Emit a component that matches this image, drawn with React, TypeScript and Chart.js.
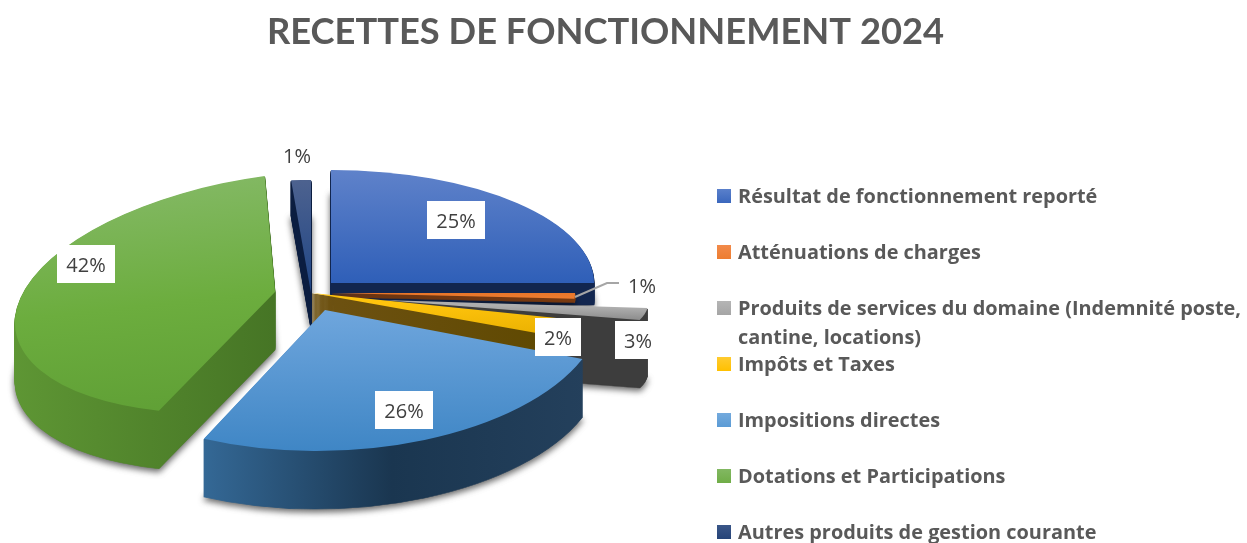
import React, { useEffect, useRef } from "react";
import { Chart, registerables } from "chart.js";

Chart.register(...registerables);

const TITLE = "RECETTES DE FONCTIONNEMENT 2024";
const categories = [
  ["Résultat de fonctionnement reporté"],
  ["Atténuations de charges"],
  ["Produits de services du domaine (Indemnité poste,", "cantine, locations)"],
  ["Impôts et Taxes"],
  ["Impositions directes"],
  ["Dotations et Participations"],
  ["Autres produits de gestion courante"],
];
const values = [25, 1, 3, 2, 26, 42, 1];
const baseColors = ["#3a67bd", "#ed7d31", "#a5a5a5", "#ffc000", "#5b9bd5", "#70ad47", "#264478"];
const legendTop = ["#5a80cb", "#f28a4a", "#b5b5b5", "#ffcb30", "#74aadd", "#82b862", "#3a5688"];

// Appearance of each slice in the fake 3D projection, drawn back to front.
type Look = {
  p: [number, number]; m: [number, number, number, number]; depth: number;
  top: string[]; gy: [number, number]; wall: string[]; wx: [number, number];
  label: [number, number]; boxW: number;
};
const looks: Look[] = [
  { p: [331, 283], m: [263, 0, 0, 113], depth: 22, top: ["#5f82ca", "#2f5fb8"], gy: [-1, 0], wall: ["#12264f", "#12264f"], wx: [0, 1], label: [456, 220], boxW: 58 },
  { p: [332, 293], m: [243, 0, 0, 90], depth: 4, top: ["#e8762a", "#f08033"], gy: [0, 0.1], wall: ["#6b3410", "#7a3a10"], wx: [0, 1], label: [642, 285], boxW: 34 },
  { p: [382, 300], m: [266, 0, 4, 65], depth: 68, top: ["#aeaeae", "#8c8c8c"], gy: [0.06, 0.25], wall: ["#3d3d3d", "#3d3d3d"], wx: [0, 1], label: [638, 340], boxW: 46 },
  { p: [312, 293], m: [255, 0, -10, 140], depth: 40, top: ["#ffc40d", "#e9b000"], gy: [0.1, 0.38], wall: ["#6e5212", "#5e4800"], wx: [0, 1], label: [558, 337], boxW: 46 },
  { p: [325, 310], m: [278, -3, -3, 141], depth: 58, top: ["#6fa6dd", "#3f86c5"], gy: [0, 1], wall: ["#356a98", "#1a3650", "#24405c"], wx: [-0.45, 0.95], label: [404, 410], boxW: 58 },
  { p: [275, 292], m: [260, -6, -28, 118], depth: 58, top: ["#82b862", "#6cad3e", "#5f9f35"], gy: [-1, 1], wall: ["#5e9634", "#467525"], wx: [-1, 0], label: [86, 264], boxW: 58 },
  { p: [311, 293], m: [317, 0, 0, 113], depth: 35, top: ["#4d628f", "#1f4585"], gy: [-1, 0], wall: ["#0b1d40", "#0b1d40"], wx: [0, 1], label: [297, 155], boxW: 34 },
];
const drawOrder = [6, 0, 5, 1, 2, 3, 4];
const leaderLine: [number, number][] = [[575, 297], [607, 283], [619, 283]];

const TEXT = "#595959";
const LABEL_TEXT = "#404040";
const FONT = '"Open Sans"';

function gradient(ctx: CanvasRenderingContext2D, x0: number, y0: number, x1: number, y1: number, stops: string[]) {
  const g = ctx.createLinearGradient(x0, y0, x1, y1);
  stops.forEach((c, i) => g.addColorStop(i / (stops.length - 1), c));
  return g;
}

const pie3d = {
  id: "pie3d",
  beforeDatasetsDraw(chart: any) {
    const ctx: CanvasRenderingContext2D = chart.ctx;
    const arcs = chart.getDatasetMeta(0).data;

    const paint = (idx: number, dy: number, fill: any, isWall: boolean, shadow: boolean) => {
      const el = arcs[idx];
      const look = looks[idx];
      const R = el.outerRadius;
      const [a, k, m, d] = look.m;
      const saved = el.options;
      el.options = {
        ...saved,
        backgroundColor: fill,
        borderColor: fill,
        borderWidth: isWall ? 1 : 0,
        borderAlign: "center",
      };
      ctx.save();
      if (shadow) {
        ctx.shadowColor = "rgba(0,0,0,0.6)";
        ctx.shadowBlur = 6;
        ctx.shadowOffsetY = 3;
      }
      ctx.transform(a / R, m / R, k / R, d / R, look.p[0], look.p[1] + dy);
      ctx.translate(-el.x, -el.y);
      el.draw(ctx);
      ctx.restore();
      el.options = saved;
    };

    for (const idx of drawOrder) {
      const el = arcs[idx];
      const look = looks[idx];
      const R = el.outerRadius;
      const wall = gradient(ctx, el.x + look.wx[0] * R, 0, el.x + look.wx[1] * R, 0, look.wall);
      const top = gradient(ctx, 0, el.y + look.gy[0] * R, 0, el.y + look.gy[1] * R, look.top);
      for (let i = look.depth; i >= 1; i--) paint(idx, i, wall, true, i === look.depth);
      paint(idx, 0, top, false, false);
    }
    return false;
  },
  afterDraw(chart: any) {
    const ctx: CanvasRenderingContext2D = chart.ctx;
    ctx.save();

    // leader line for the orange slice
    ctx.strokeStyle = "#a6a6a6";
    ctx.lineWidth = 2;
    ctx.beginPath();
    leaderLine.forEach(([x, y], i) => (i ? ctx.lineTo(x, y) : ctx.moveTo(x, y)));
    ctx.stroke();

    // percentage labels
    ctx.font = `20px ${FONT}`;
    ctx.textAlign = "center";
    ctx.textBaseline = "middle";
    values.forEach((v, i) => {
      const { label, boxW } = looks[i];
      ctx.fillStyle = "#ffffff";
      ctx.fillRect(label[0] - boxW / 2, label[1] - 19, boxW, 38);
      ctx.fillStyle = LABEL_TEXT;
      ctx.fillText(`${v}%`, label[0], label[1] + 2);
    });

    // legend
    ctx.textAlign = "left";
    ctx.font = `bold 19.9px ${FONT}`;
    categories.forEach((lines, i) => {
      const y = 195 + i * 56;
      ctx.fillStyle = gradient(ctx, 0, y - 6, 0, y + 8, [legendTop[i], baseColors[i]]);
      ctx.fillRect(717, y - 6, 14, 14);
      ctx.fillStyle = TEXT;
      lines.forEach((line, j) => ctx.fillText(line, 738, y + 2 + j * 29));
    });
    ctx.restore();
  },
};

export default function App() {
  const ref = useRef<HTMLCanvasElement>(null);
  useEffect(() => {
    document.body.style.margin = "0";
    const chart = new Chart(ref.current!, {
      type: "pie",
      data: {
        labels: categories.map((l) => l.join(" ")),
        datasets: [{ data: values, backgroundColor: baseColors, borderWidth: 0 }],
      },
      options: {
        responsive: false,
        animation: false,
        events: [],
        layout: { padding: { right: 36 } },
        plugins: {
          legend: { display: false },
          tooltip: { enabled: false },
          title: {
            display: true,
            text: TITLE,
            color: TEXT,
            font: { family: "Lato", weight: "bold", size: 36.3 },
            padding: { top: 11, bottom: 10 },
          },
        },
      },
      plugins: [pie3d],
    } as any);
    return () => chart.destroy();
  }, []);
  return <canvas ref={ref} width={1247} height={543} style={{ display: "block" }} />;
}
